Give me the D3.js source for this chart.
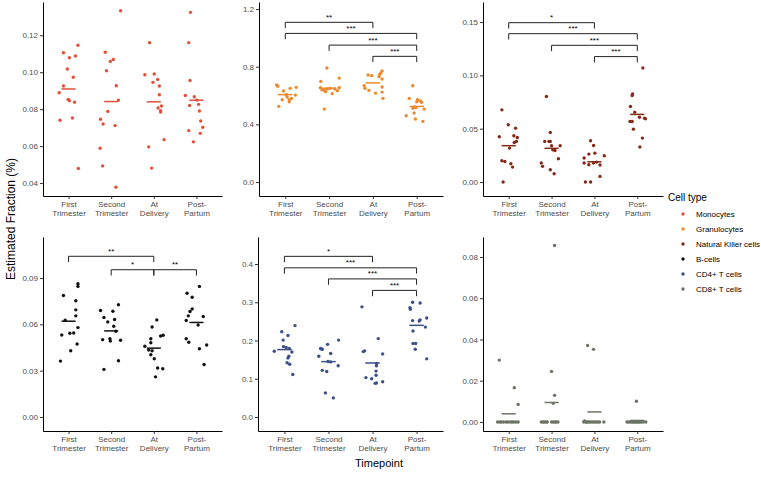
<!DOCTYPE html>
<html>
<head>
<meta charset="utf-8">
<script src="https://cdnjs.cloudflare.com/ajax/libs/d3/7.8.5/d3.min.js"></script>
<style>
  body { margin: 0; background: #fff; }
  svg { font-family: "Liberation Sans", Arial, sans-serif; }
</style>
</head>
<body>
<div id="graphic"></div>
<script>
(function() {
  var width = 761, height = 480;

  /*** DATA ***/
  var timepoints = [["First", "Trimester"], ["Second", "Trimester"], ["At", "Delivery"], ["Post-", "Partum"]];
  var cellTypes = ["Monocytes", "Granulocytes", "Natural Killer cells", "B-cells", "CD4+ T cells", "CD8+ T cells"];
  var cellColors = ["#E2503A", "#EB8A2C", "#832A16", "#111111", "#3C5088", "#6C7465"];

  // one list per timepoint, each point is [jitter (share of category step), estimated fraction]
  var monocytes = [
    [[-0.22,0.0889],[-0.12,0.0925],[-0.12,0.1105],[-0.03,0.1017],[0.02,0.1078],[-0.01,0.0853],[0.02,0.0846],
     [0.11,0.0973],[0.16,0.1088],[0.22,0.1146],[0.14,0.0838],[0.09,0.0752],[-0.20,0.0740],[0.23,0.0479]],
    [[-0.14,0.1108],[-0.02,0.1058],[0.05,0.1069],[-0.11,0.1008],[0.22,0.1333],[0.12,0.0927],[0.17,0.0849],
     [-0.08,0.0788],[-0.25,0.0745],[-0.19,0.0720],[0.09,0.0711],[-0.26,0.0589],[-0.20,0.0493],[0.11,0.0378]],
    [[-0.10,0.1160],[-0.21,0.0986],[0.01,0.0990],[-0.02,0.0945],[0.09,0.0961],[0.13,0.0925],[0.13,0.0878],
     [0.18,0.0817],[0.10,0.0806],[0.16,0.0792],[0.16,0.0785],[0.24,0.0635],[-0.12,0.0596],[-0.05,0.0481]],
    [[-0.14,0.1324],[-0.18,0.1160],[-0.15,0.0955],[-0.26,0.0874],[-0.16,0.0820],[-0.05,0.0867],[0.01,0.0849],
     [0.05,0.0826],[0.07,0.0790],[0.10,0.0736],[0.15,0.0702],[0.09,0.0669],[-0.18,0.0684],[-0.07,0.0623]]
  ];
  var granulocytes = [
    [[-0.20,0.673],[-0.17,0.664],[-0.04,0.631],[0.11,0.650],[0.25,0.657],[0.02,0.608],[-0.07,0.571],
     [0.04,0.590],[0.09,0.571],[0.14,0.580],[0.23,0.603],[0.09,0.557],[-0.15,0.525]],
    [[-0.05,0.791],[-0.19,0.698],[0.23,0.721],[-0.20,0.654],[-0.16,0.640],[-0.11,0.636],[-0.04,0.645],
     [0.02,0.650],[0.23,0.654],[0.19,0.634],[0.07,0.613],[-0.11,0.506],[-0.08,0.627],[0.13,0.645]],
    [[-0.11,0.742],[-0.03,0.738],[0.15,0.745],[0.21,0.770],[0.18,0.756],[0.14,0.731],[0.21,0.714],
     [-0.20,0.668],[-0.18,0.650],[-0.09,0.636],[0.06,0.617],[0.21,0.659],[0.21,0.624],[0.23,0.580]],
    [[-0.09,0.668],[-0.17,0.580],[0.02,0.571],[0.00,0.557],[0.08,0.562],[0.11,0.553],[-0.05,0.520],
     [-0.09,0.511],[-0.02,0.516],[0.17,0.506],[-0.06,0.479],[-0.24,0.460],[-0.03,0.437],[0.14,0.421]]
  ];
  var nkCells = [
    [[-0.16,0.0677],[-0.01,0.0537],[0.16,0.0505],[-0.22,0.0424],[0.12,0.0434],[0.20,0.0418],[0.18,0.0381],
     [0.13,0.0371],[0.02,0.0318],[-0.16,0.0200],[-0.09,0.0193],[0.05,0.0172],[0.09,0.0140],[-0.13,0.0000]],
    [[-0.12,0.0802],[-0.03,0.0465],[-0.16,0.0381],[-0.06,0.0381],[-0.03,0.0381],[0.00,0.0340],[0.20,0.0340],
     [0.03,0.0303],[0.08,0.0296],[0.16,0.0218],[-0.24,0.0178],[-0.21,0.0147],[-0.03,0.0115],[0.06,0.0078]],
    [[-0.09,0.0387],[-0.02,0.0343],[0.01,0.0271],[-0.13,0.0262],[-0.24,0.0225],[0.23,0.0246],[-0.24,0.0178],
     [-0.13,0.0162],[-0.02,0.0178],[0.05,0.0187],[0.13,0.0159],[0.13,0.0053],[-0.21,0.0000],[-0.09,0.0000]],
    [[0.13,0.1070],[-0.11,0.0827],[-0.12,0.0811],[-0.16,0.0708],[-0.06,0.0655],[-0.17,0.0568],[-0.12,0.0568],
     [0.17,0.0599],[0.19,0.0593],[-0.09,0.0496],[0.12,0.0412],[0.06,0.0328],[0.05,0.0608]]
  ];
  var bCells = [
    [[-0.12,0.0787],[0.22,0.0863],[0.22,0.0846],[0.17,0.0753],[0.17,0.0694],[0.17,0.0655],[-0.08,0.0627],
     [0.22,0.0579],[-0.16,0.0531],[0.03,0.0542],[0.12,0.0544],[0.20,0.0473],[0.05,0.0429],[-0.19,0.0362]],
    [[-0.25,0.0690],[-0.17,0.0644],[-0.08,0.0616],[0.04,0.0685],[0.17,0.0727],[0.08,0.0631],[0.06,0.0588],
     [0.11,0.0555],[-0.20,0.0501],[-0.03,0.0507],[-0.02,0.0492],[0.22,0.0497],[0.17,0.0364],[-0.17,0.0308]],
    [[0.07,0.0629],[-0.04,0.0583],[0.22,0.0529],[0.16,0.0525],[-0.07,0.0507],[-0.07,0.0481],[-0.21,0.0458],
     [-0.12,0.0434],[-0.04,0.0429],[-0.07,0.0403],[0.01,0.0377],[0.09,0.0317],[0.21,0.0312],[0.04,0.0260]],
    [[-0.22,0.0802],[-0.10,0.0776],[0.07,0.0846],[-0.10,0.0700],[-0.15,0.0683],[-0.19,0.0655],[-0.24,0.0625],
     [0.04,0.0596],[0.16,0.0651],[-0.24,0.0507],[-0.18,0.0484],[0.07,0.0442],[0.24,0.0466],[0.18,0.0340]]
  ];
  var cd4Cells = [
    [[0.24,0.239],[-0.06,0.223],[0.08,0.213],[-0.03,0.201],[-0.23,0.172],[-0.02,0.184],[0.04,0.182],
     [0.11,0.179],[0.17,0.170],[0.10,0.159],[0.08,0.154],[0.06,0.142],[0.12,0.138],[0.19,0.111]],
    [[0.23,0.201],[-0.02,0.190],[-0.18,0.179],[-0.14,0.177],[0.05,0.166],[-0.22,0.159],[-0.01,0.145],
     [0.05,0.144],[0.22,0.134],[-0.14,0.122],[-0.04,0.119],[-0.07,0.063],[0.11,0.050],[-0.16,0.178]],
    [[-0.24,0.288],[0.13,0.205],[-0.21,0.171],[-0.18,0.173],[0.23,0.165],[0.09,0.134],[0.08,0.120],
     [0.08,0.109],[-0.15,0.103],[-0.02,0.100],[0.09,0.089],[0.06,0.088],[0.23,0.092],[0.09,0.140]],
    [[-0.09,0.300],[0.08,0.298],[-0.15,0.286],[-0.14,0.282],[0.23,0.259],[-0.09,0.252],[0.06,0.251],
     [0.08,0.254],[-0.08,0.225],[0.20,0.235],[-0.08,0.192],[-0.02,0.192],[-0.03,0.177],[0.23,0.152]]
  ];
  var cd8Cells = [
    [[-0.22,0.0300],[0.13,0.0166],[0.22,0.0085],[-0.26,0],[-0.21,0],[-0.17,0],[-0.12,0],[-0.06,0],
     [-0.02,0],[0.04,0],[0.08,0],[0.12,0],[0.17,0],[0.22,0]],
    [[0.07,0.0856],[0.00,0.0245],[0.07,0.0129],[0.04,0.0090],[-0.24,0],[-0.20,0],[-0.17,0],[-0.13,0],
     [-0.10,0],[0.00,0],[0.04,0],[0.08,0],[0.11,0],[0.15,0]],
    [[-0.16,0.0371],[-0.02,0.0352],[-0.23,0.0005],[-0.25,0],[-0.20,0],[-0.16,0],[-0.12,0],[-0.08,0],
     [-0.04,0],[0.00,0],[0.04,0],[0.08,0],[0.12,0],[0.22,0],[-0.18,0]],
    [[-0.02,0.0100],[-0.24,0],[-0.20,0],[-0.16,0],[-0.12,0],[-0.09,0],[-0.06,0],[-0.03,0],[0.00,0],
     [0.03,0],[0.06,0],[0.10,0],[0.14,0],[0.20,0]]
  ];
  var panelData = [monocytes, granulocytes, nkCells, bCells, cd4Cells, cd8Cells];

  var yTicks = [
    [0.04, 0.06, 0.08, 0.10, 0.12],
    [0.0, 0.4, 0.8, 1.2],
    [0.00, 0.05, 0.10, 0.15],
    [0.00, 0.03, 0.06, 0.09],
    [0.0, 0.1, 0.2, 0.3, 0.4],
    [0.00, 0.02, 0.04, 0.06, 0.08]
  ];
  var yFormats = [".2f", ".1f", ".2f", ".2f", ".1f", ".2f"];
  var yDomains = [[0.033, 0.138], [-0.097, 1.249], [-0.0131, 0.1688], [-0.0091, 0.1166], [-0.0366, 0.4706], [-0.0044, 0.0897]];

  // [from timepoint, to timepoint, label, bracket height]
  var brackets = [
    [],
    [[0, 2, "**", 1.108], [0, 3, "***", 1.031], [1, 3, "***", 0.950], [2, 3, "***", 0.872]],
    [[0, 2, "*", 0.1494], [0, 3, "***", 0.1391], [1, 3, "***", 0.1282], [2, 3, "***", 0.1176]],
    [[0, 2, "**", 0.1041], [1, 2, "*", 0.0954], [2, 3, "**", 0.0954]],
    [[0, 2, "*", 0.420], [0, 3, "***", 0.390], [1, 3, "***", 0.361], [2, 3, "***", 0.331]],
    []
  ];

  /*** LAYOUT ***/
  var panels = [
    { left: 43, right: 222, top: 2, bottom: 196 },
    { left: 259, right: 443, top: 2, bottom: 196 },
    { left: 483, right: 663, top: 2, bottom: 196 },
    { left: 43, right: 222, top: 237, bottom: 431 },
    { left: 258, right: 443, top: 237, bottom: 431 },
    { left: 483, right: 663, top: 237, bottom: 431 }
  ];
  var tickColor = "#4D4D4D";

  var svg = d3.select("#graphic")
    .append("svg")
    .attr("width", width)
    .attr("height", height);

  svg.append("rect").attr("width", width).attr("height", height).attr("fill", "#fff");

  /*** PANELS ***/
  panels.forEach(function(box, p) {
    var g = svg.append("g").attr("class", "panel");
    var color = cellColors[p];

    var x = d3.scalePoint().domain([0, 1, 2, 3]).range([box.left, box.right]).padding(0.6);
    var y = d3.scaleLinear().domain(yDomains[p]).range([box.bottom, box.top]);
    var step = x.step();

    // y axis
    var yAxis = g.append("g")
      .attr("transform", "translate(" + box.left + ",0)")
      .call(d3.axisLeft(y).tickValues(yTicks[p]).tickFormat(d3.format(yFormats[p])).tickSize(3).tickSizeOuter(0).tickPadding(2));
    yAxis.select(".domain").attr("stroke", "#000");
    yAxis.selectAll(".tick line").attr("stroke", "#333");
    yAxis.selectAll(".tick text").attr("fill", tickColor).style("font-size", "8px");

    // x axis
    var xAxis = g.append("g")
      .attr("transform", "translate(0," + box.bottom + ")")
      .call(d3.axisBottom(x).tickSize(3).tickSizeOuter(0).tickFormat(""));
    xAxis.select(".domain").attr("stroke", "#000");
    xAxis.selectAll(".tick line").attr("stroke", "#333");
    xAxis.selectAll(".tick").append("text")
      .attr("fill", tickColor)
      .attr("text-anchor", "middle")
      .style("font-size", "8px")
      .selectAll("tspan")
      .data(function(d) { return timepoints[d]; })
      .enter().append("tspan")
      .attr("x", 0)
      .attr("y", function(d, i) { return 11 + i * 8.5; })
      .text(function(d) { return d; });

    // points
    panelData[p].forEach(function(group, k) {
      g.selectAll(".pt" + k)
        .data(group).enter().append("circle")
        .attr("class", "pt" + k)
        .attr("cx", function(d) { return x(k) + d[0] * step; })
        .attr("cy", function(d) { return y(d[1]); })
        .attr("r", 1.7)
        .attr("fill", color);

      var m = d3.mean(group, function(d) { return d[1]; });
      g.append("line")
        .attr("x1", x(k) - 0.165 * step)
        .attr("x2", x(k) + 0.165 * step)
        .attr("y1", y(m))
        .attr("y2", y(m))
        .attr("stroke", color)
        .attr("stroke-width", 1.5);
    });

    // significance brackets
    var tip = 0.03 * (box.bottom - box.top);
    brackets[p].forEach(function(b) {
      var by = y(b[3]);
      g.append("path")
        .attr("d", "M" + x(b[0]) + "," + (by + tip) + "V" + by + "H" + x(b[1]) + "V" + (by + tip))
        .attr("fill", "none")
        .attr("stroke", "#222")
        .attr("stroke-width", 1);
      g.append("text")
        .attr("x", (x(b[0]) + x(b[1])) / 2)
        .attr("y", by - 2.5)
        .attr("text-anchor", "middle")
        .style("font-size", "8px")
        .attr("fill", "#000")
        .text(b[2]);
    });
  });

  /*** AXIS TITLES ***/
  svg.append("text")
    .attr("transform", "translate(15,219) rotate(-90)")
    .attr("text-anchor", "middle")
    .style("font-size", "12px")
    .attr("fill", "#000")
    .text("Estimated Fraction (%)");

  svg.append("text")
    .attr("x", 379)
    .attr("y", 467)
    .attr("text-anchor", "middle")
    .style("font-size", "11px")
    .attr("fill", "#000")
    .text("Timepoint");

  /*** LEGEND ***/
  var legend = svg.append("g").attr("transform", "translate(668,197)");
  legend.append("text")
    .attr("x", 0)
    .attr("y", 3.5)
    .style("font-size", "10px")
    .attr("fill", "#000")
    .text("Cell type");
  var items = legend.selectAll(".item")
    .data(cellTypes).enter().append("g")
    .attr("class", "item")
    .attr("transform", function(d, i) { return "translate(0," + (17 + i * 15) + ")"; });
  items.append("circle")
    .attr("cx", 15)
    .attr("cy", 0)
    .attr("r", 1.7)
    .attr("fill", function(d, i) { return cellColors[i]; });
  items.append("text")
    .attr("x", 28)
    .attr("y", 3)
    .style("font-size", "8px")
    .attr("fill", "#000")
    .text(function(d) { return d; });
})();
</script>
</body>
</html>
